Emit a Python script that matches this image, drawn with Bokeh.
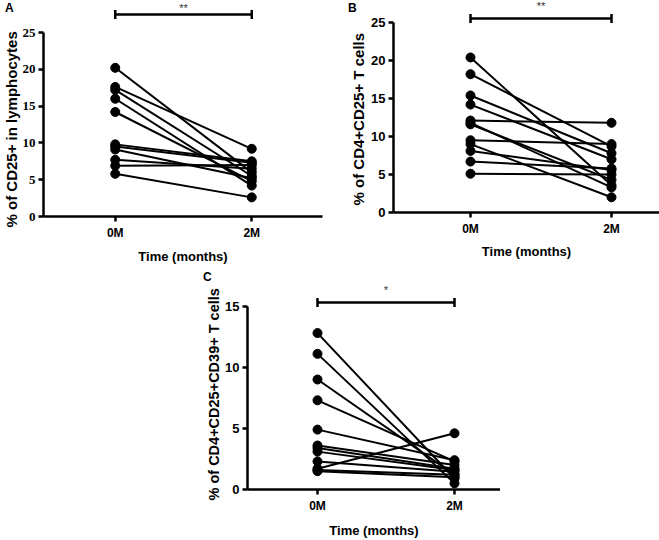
from bokeh.plotting import figure
from bokeh.layouts import row, Spacer
from bokeh.models import (FixedTicker, Range1d, Label, ColumnDataSource, GridBox,
                          Div, Title)
from bokeh.embed import file_html
from bokeh.resources import INLINE

# ---------------- data ----------------
time_labels = ["0M", "2M"]

a_0m = [20.2, 17.6, 17.2, 16.0, 14.2, 9.8, 9.5, 9.1, 7.7, 6.9, 5.8]
a_2m = [6.0, 9.2, 5.5, 4.2, 4.8, 7.5, 7.3, 5.2, 6.5, 7.0, 2.6]

b_0m = [20.4, 18.2, 15.4, 14.2, 12.1, 11.8, 11.6, 9.5, 9.0, 8.1, 6.7, 5.1]
b_2m = [3.6, 8.7, 7.8, 7.0, 11.8, 3.3, 4.3, 9.0, 2.0, 5.6, 5.8, 5.0]

c_0m = [12.8, 11.1, 9.0, 7.3, 4.9, 3.6, 3.4, 3.1, 2.3, 1.7, 1.6, 1.5]
c_2m = [0.9, 0.5, 1.2, 2.3, 2.4, 2.0, 1.7, 1.6, 1.45, 4.6, 1.2, 1.0]

ylabels = ["% of CD25+ in lymphocytes",
           "% of CD4+CD25+ T cells",
           "% of CD4+CD25+CD39+ T cells"]
xlabel = "Time (months)"
sig_marks = ["**", "**", "*"]
panel_letters = ["A", "B", "C"]

SANS = "Liberation Sans"
SERIF = "Liberation Serif"


def build(v0, v2, ylabel, ymax, ystep, ytick_font, star, *,
          fig_left, fig_top, width, height, frame_left, frame_right,
          y0px, ymaxpx, x0px, x2px, bar_px, star_px,
          ylab_size, ylab_standoff, ylab_offset, xtick_standoff, xlab_standoff):
    ppu_y = (y0px - ymaxpx) / ymax
    ppu_x = float(x2px - x0px)
    x_start = -(x0px - frame_left) / ppu_x
    x_end = 1 + (frame_right - x2px) / ppu_x
    y_end = (y0px - fig_top) / ppu_y

    def px2y(py):
        return (y0px - py) / ppu_y

    p = figure(width=width, height=height,
               x_range=Range1d(x_start, x_end), y_range=Range1d(0, y_end),
               output_backend="svg", toolbar_location=None,
               min_border_left=frame_left - fig_left,
               min_border_right=fig_left + width - frame_right,
               min_border_top=0,
               min_border_bottom=fig_top + height - y0px)
    p.frame_align = False
    p.outline_line_color = None
    p.xgrid.grid_line_color = None
    p.ygrid.grid_line_color = None
    p.background_fill_color = "white"
    p.border_fill_color = "white"

    n = len(v0)
    src = ColumnDataSource(dict(x0=[0] * n, y0=v0, x1=[1] * n, y1=v2))
    p.segment(x0="x0", y0="y0", x1="x1", y1="y1", source=src,
              line_color="black", line_width=2)
    p.scatter(x=[0] * n + [1] * n, y=list(v0) + list(v2), size=9,
              fill_color="black", line_color="black")

    # significance bar
    by = px2y(bar_px)
    cap = 4.5 / ppu_y
    p.segment(x0=[0, 0, 1], y0=[by, by - cap, by - cap],
              x1=[1, 0, 1], y1=[by, by + cap, by + cap],
              line_color="black", line_width=2.5)
    p.add_layout(Label(x=0.5, y=px2y(star_px), text=star, text_align="center",
                       text_baseline="middle", text_font=SANS,
                       text_font_size="11px", text_color="#333333"))

    # axes
    for ax in (p.xaxis[0], p.yaxis[0]):
        ax.axis_line_width = 2.5
        ax.axis_line_color = "black"
        ax.major_tick_line_width = 2.5
        ax.major_tick_line_color = "black"
        ax.major_tick_out = 5
        ax.major_tick_in = 0
        ax.minor_tick_line_color = None
        ax.axis_label_text_font = SANS
        ax.axis_label_text_font_style = "bold"
        ax.axis_label_text_color = "black"
        ax.major_label_text_color = "black"
        ax.major_label_text_font_style = "bold"

    xa = p.xaxis[0]
    xa.ticker = FixedTicker(ticks=[0, 1])
    xa.major_label_overrides = {0: time_labels[0], 1: time_labels[1]}
    xa.major_label_text_font = SANS
    xa.major_label_text_font_size = "12px"
    xa.major_label_standoff = xtick_standoff
    xa.axis_label = xlabel
    xa.axis_label_text_font_size = "13px"
    xa.axis_label_standoff = xlab_standoff

    ya = p.yaxis[0]
    ya.ticker = FixedTicker(ticks=list(range(0, ymax + 1, ystep)))
    ya.bounds = (0, ymax)
    ya.major_label_text_font = ytick_font
    ya.major_label_text_font_size = "13px"
    ya.major_label_standoff = 3

    # y-axis title, anchored at the bottom of the axis and shifted as drawn
    p.add_layout(Title(text=ylabel, align="left", offset=ylab_offset,
                       standoff=ylab_standoff, text_font=SANS,
                       text_font_size=ylab_size, text_font_style="bold",
                       text_color="black"), "left")
    return p


pA = build(a_0m, a_2m, ylabels[0], 25, 5, SERIF, sig_marks[0],
           fig_left=0, fig_top=0, width=330, height=270,
           frame_left=42, frame_right=322, y0px=216, ymaxpx=32,
           x0px=114, x2px=251, bar_px=14, star_px=7, ylab_size="15px",
           ylab_standoff=0, ylab_offset=-11, xtick_standoff=4, xlab_standoff=6)

pB = build(b_0m, b_2m, ylabels[1], 25, 5, SANS, sig_marks[1],
           fig_left=330, fig_top=0, width=329, height=270,
           frame_left=393, frame_right=659, y0px=212, ymaxpx=22,
           x0px=470, x2px=611, bar_px=18, star_px=5, ylab_size="15px",
           ylab_standoff=4, ylab_offset=7, xtick_standoff=4, xlab_standoff=5)

pC = build(c_0m, c_2m, ylabels[2], 15, 5, SANS, sig_marks[2],
           fig_left=180, fig_top=270, width=320, height=270,
           frame_left=247, frame_right=500, y0px=489, ymaxpx=305.7,
           x0px=317, x2px=454, bar_px=302, star_px=289, ylab_size="14.5px",
           ylab_standoff=1, ylab_offset=-11, xtick_standoff=4, xlab_standoff=7)

# panel letters overlaid on the whole grid
letter_pos = [(5, 2), (348, 2), (203, 271)]
spans = "".join(
    '<span style="position:absolute;left:%dpx;top:%dpx">%s</span>' % (x, y, t)
    for (x, y), t in zip(letter_pos, panel_letters))
letters = Div(text='<div style="position:relative;width:659px;height:540px;'
                   'font-family:\'Liberation Sans\';font-weight:bold;'
                   'font-size:12px;line-height:12px;color:black;'
                   'pointer-events:none">' + spans + '</div>',
              width=659, height=540, margin=0)

row2 = row(Spacer(width=180, height=270), pC)
layout = GridBox(children=[(pA, 0, 0), (pB, 0, 1), (row2, 1, 0, 1, 2),
                           (letters, 0, 0, 2, 2)])

open("out.html", "w").write(file_html(layout, INLINE))
